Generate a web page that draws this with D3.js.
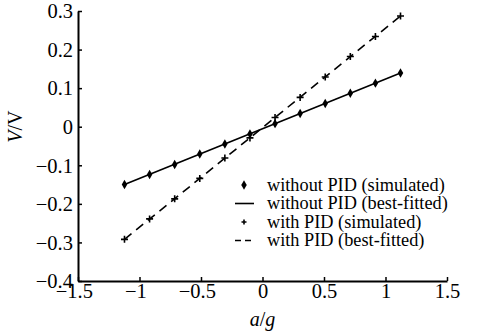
<!DOCTYPE html>
<html>
<head>
<meta charset="utf-8">
<script src="https://cdn.jsdelivr.net/npm/d3@7"></script>
<style>
  body { margin: 0; background: #fff; }
  text { font-family: "Liberation Serif", "Times New Roman", serif; fill: #000; }
</style>
</head>
<body>
<div id="chart"></div>
<script>
// a/g sample positions
const accel = [-1.122, -0.918, -0.714, -0.51, -0.306, -0.102, 0.102, 0.306, 0.51, 0.714, 0.918, 1.122];
// output voltage, without PID (simulated)
const noPid = [-0.150, -0.124, -0.098, -0.071, -0.045, -0.019, 0.008, 0.034, 0.060, 0.087, 0.113, 0.139];
// output voltage, with PID (simulated)
const withPid = [-0.292, -0.239, -0.187, -0.134, -0.081, -0.029, 0.024, 0.076, 0.129, 0.182, 0.234, 0.287];
// best-fitted lines, end points
const fitX = [-1.122, 1.122];
const noPidFit = [-0.150, 0.139];
const withPidFit = [-0.292, 0.287];
const xTicks = [-1.5, -1, -0.5, 0, 0.5, 1, 1.5];
const yTicks = [-0.4, -0.3, -0.2, -0.1, 0, 0.1, 0.2, 0.3];
const legendLabels = ['without PID (simulated)', 'without PID (best-fitted)', 'with PID (simulated)', 'with PID (best-fitted)'];

const width = 477, height = 336;
const x = d3.scaleLinear().domain([-1.5, 1.5]).range([78, 447]);
const y = d3.scaleLinear().domain([-0.4, 0.3]).range([281, 11]);

const svg = d3.select('#chart').append('svg')
  .attr('width', width).attr('height', height);

const fmt = d => d === 0 ? '0' : d3.format('.1~f')(d).replace('-', '\u2212');
const serif = '"Liberation Serif", "Times New Roman", serif';

// y axis
const yAxis = svg.append('g').attr('transform', `translate(${x(-1.5)},0)`)
  .call(d3.axisRight(y).tickValues(yTicks).tickSize(4).tickSizeOuter(0).tickFormat(fmt))
  .attr('font-family', serif).attr('font-size', 20.5);
yAxis.select('.domain').attr('stroke-width', 2);
yAxis.selectAll('.tick line').attr('stroke-width', 1.5);
yAxis.selectAll('.tick text').attr('x', -5).attr('text-anchor', 'end').attr('dy', '0.33em');

// x axis
const xAxis = svg.append('g').attr('transform', `translate(0,${y(-0.4)})`)
  .call(d3.axisTop(x).tickValues(xTicks).tickSize(4).tickSizeOuter(0).tickFormat(fmt))
  .attr('font-family', serif).attr('font-size', 20.5);
xAxis.select('.domain').attr('stroke-width', 2);
xAxis.selectAll('.tick line').attr('stroke-width', 1.5);
xAxis.selectAll('.tick text').attr('y', 17).attr('dy', 0)
  .attr('dx', d => d < 0 ? '-0.2em' : 0);

// axis titles
const xt = svg.append('text').attr('x', x(0)).attr('y', 326)
  .attr('text-anchor', 'middle').style('font-size', '20px');
xt.append('tspan').style('font-style', 'italic').text('a');
xt.append('tspan').text('/');
xt.append('tspan').style('font-style', 'italic').text('g');

const yt = svg.append('text').attr('transform', `translate(22,${y(0)}) rotate(-90)`)
  .attr('text-anchor', 'middle').style('font-size', '20px');
yt.append('tspan').style('font-style', 'italic').text('V');
yt.append('tspan').text('/V');

// fitted lines
const line = d3.line().x(d => x(d[0])).y(d => y(d[1]));
svg.append('path').datum(d3.zip(fitX, noPidFit)).attr('d', line)
  .attr('fill', 'none').attr('stroke', '#000').attr('stroke-width', 1.6);
svg.append('path').datum(d3.zip(fitX, withPidFit)).attr('d', line)
  .attr('fill', 'none').attr('stroke', '#000').attr('stroke-width', 1.6)
  .attr('stroke-dasharray', '9,6');

// markers
const diamond = d3.symbol().type(d3.symbolDiamond).size(26);
svg.append('g').selectAll('path').data(d3.zip(accel, noPid)).join('path')
  .attr('d', diamond).attr('transform', d => `translate(${x(d[0])},${y(d[1])})`)
  .attr('fill', '#000');
svg.append('g').selectAll('path').data(d3.zip(accel, withPid)).join('path')
  .attr('d', 'M-3.5,0H3.5M0,-3.5V3.5').attr('transform', d => `translate(${x(d[0])},${y(d[1])})`)
  .attr('stroke', '#000').attr('stroke-width', 1.6);

// legend
const leg = svg.append('g');
const rowY = [185, 203.5, 222, 240.5];
legendLabels.forEach((lab, i) => {
  const g = leg.append('g').attr('transform', `translate(0,${rowY[i]})`);
  if (i === 0) g.append('path').attr('d', diamond).attr('transform', 'translate(244,0)').attr('fill', '#000');
  if (i === 2) g.append('path').attr('d', 'M-2.5,0H2.5M0,-2.5V2.5').attr('transform', 'translate(244,0)')
    .attr('stroke', '#000').attr('stroke-width', 1.6);
  if (i === 1 || i === 3) g.append('line').attr('x1', 235).attr('x2', 254)
    .attr('stroke', '#000').attr('stroke-width', 1.6)
    .attr('stroke-dasharray', i === 3 ? '6,4' : null);
  g.append('text').attr('x', 267).attr('dy', '0.32em').style('font-size', '18.3px').text(lab);
});
</script>
</body>
</html>
